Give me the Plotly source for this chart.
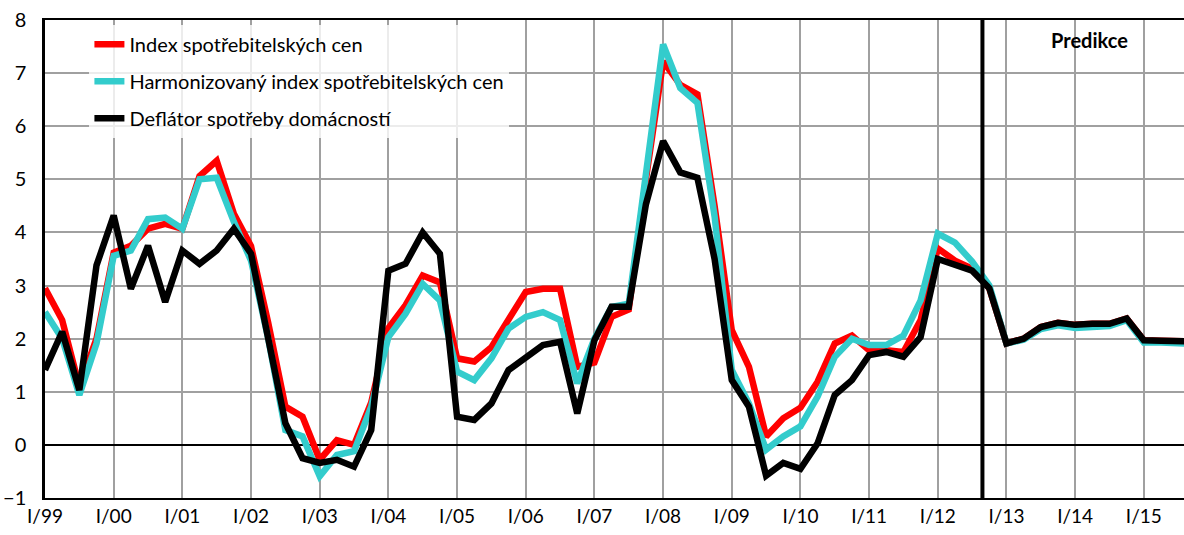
import plotly.graph_objects as go

# Quarterly data, I/1999 .. IV/2015 (index 0 = I/99)
quarter_index = list(range(68))

tick_positions = list(range(0, 68, 4))
tick_labels = ["I/99", "I/00", "I/01", "I/02", "I/03", "I/04", "I/05", "I/06",
               "I/07", "I/08", "I/09", "I/10", "I/11", "I/12", "I/13", "I/14", "I/15"]

cpi = [2.95, 2.35, 1.10, 2.00, 3.62, 3.75, 4.07, 4.16, 4.07, 5.06, 5.35, 4.35,
       3.74, 2.30, 0.72, 0.53, -0.28, 0.09, 0.00, 0.80, 2.20, 2.63, 3.19, 3.06,
       1.63, 1.57, 1.84, 2.38, 2.88, 2.94, 2.94, 1.47, 1.55, 2.41, 2.55, 5.00,
       7.22, 6.78, 6.60, 4.50, 2.16, 1.47, 0.16, 0.50, 0.70, 1.19, 1.91, 2.06,
       1.78, 1.78, 1.75, 2.35, 3.70, 3.47, 3.32, 2.95, 1.91, 2.00, 2.22, 2.30,
       2.26, 2.28, 2.28, 2.38, 1.97, 1.96, 1.94, 1.95]

hicp = [2.50, 2.00, 0.94, 1.91, 3.56, 3.66, 4.25, 4.28, 4.07, 5.00, 5.03, 4.20,
        3.47, 2.00, 0.28, 0.16, -0.59, -0.19, -0.12, 0.72, 2.03, 2.47, 3.03, 2.72,
        1.38, 1.22, 1.63, 2.19, 2.41, 2.50, 2.35, 1.16, 2.00, 2.60, 2.66, 5.05,
        7.54, 6.72, 6.44, 4.30, 1.41, 0.78, -0.09, 0.16, 0.35, 0.91, 1.66, 2.00,
        1.88, 1.88, 2.06, 2.72, 3.98, 3.81, 3.45, 3.00, 1.91, 1.98, 2.18, 2.25,
        2.20, 2.22, 2.24, 2.35, 1.93, 1.93, 1.90, 1.90]

deflator = [1.41, 2.13, 1.03, 3.38, 4.32, 2.94, 3.75, 2.69, 3.66, 3.41, 3.66, 4.07,
            3.60, 1.95, 0.41, -0.25, -0.34, -0.28, -0.41, 0.28, 3.28, 3.41, 4.00, 3.60,
            0.53, 0.47, 0.78, 1.41, 1.63, 1.88, 1.94, 0.59, 1.97, 2.60, 2.60, 4.53,
            5.72, 5.13, 5.03, 3.50, 1.22, 0.72, -0.58, -0.34, -0.45, 0.03, 0.94, 1.22,
            1.69, 1.75, 1.66, 2.03, 3.50, 3.38, 3.28, 2.95, 1.91, 2.00, 2.22, 2.30,
            2.26, 2.28, 2.28, 2.38, 1.97, 1.96, 1.94, 1.95]

series_names = ["Index spotřebitelských cen",
                "Harmonizovaný index spotřebitelských cen",
                "Deflátor spotřeby domácností"]
series_colors = ["#FF0000", "#33CCCC", "#000000"]

forecast_start = 54.6
x_max = 66.34

FONT = "Lato, 'Open Sans', sans-serif"

fig = go.Figure()
for name, vals, col, g in zip(series_names, [cpi, hicp, deflator], series_colors, ["a", "b", "c"]):
    fig.add_trace(go.Scatter(x=quarter_index, y=vals, mode="lines", name=name,
                             legendgroup=g,
                             line=dict(color=col, width=6.5)))

fig.add_shape(type="line", xref="x", yref="paper", x0=forecast_start, x1=forecast_start,
              y0=0, y1=1, line=dict(color="black", width=4))

fig.add_annotation(text="<b>Predikce</b>", xref="paper", yref="paper",
                   x=(1089 - 45) / 1139, y=1 - (40 - 20) / 478, showarrow=False,
                   xanchor="center", yanchor="middle",
                   font=dict(family=FONT, size=20, color="black"))

fig.update_layout(
    width=1184, height=535,
    margin=dict(l=45, r=0, t=20, b=37),
    paper_bgcolor="white", plot_bgcolor="white",
    font=dict(family=FONT, size=20, color="black"),
    showlegend=True,
    legend=dict(x=0.039, y=0.99, xanchor="left", yanchor="top",
                bgcolor="rgba(255,255,255,0.8)", borderwidth=0,
                font=dict(family=FONT, size=20, color="black"),
                tracegroupgap=8),
    xaxis=dict(range=[0, x_max], tickvals=tick_positions, ticktext=tick_labels,
               showgrid=True, gridcolor="#A0A0A0", gridwidth=1.5,
               showline=True, linecolor="black", linewidth=2, mirror=True,
               ticks="", zeroline=False, tickfont=dict(size=19), automargin=False),
    yaxis=dict(range=[-1, 8], dtick=1, showgrid=True, gridcolor="#A0A0A0", gridwidth=1.5,
               showline=True, linecolor="black", linewidth=2.5, mirror=True,
               zeroline=True, zerolinecolor="black", zerolinewidth=1.5,
               ticks="outside", ticklen=12, tickcolor="white", tickfont=dict(size=20),
               automargin=False),
)

fig.write_html("out.html", config={"displayModeBar": False},
               post_script="document.body.style.margin='0';document.body.style.overflow='hidden';")
